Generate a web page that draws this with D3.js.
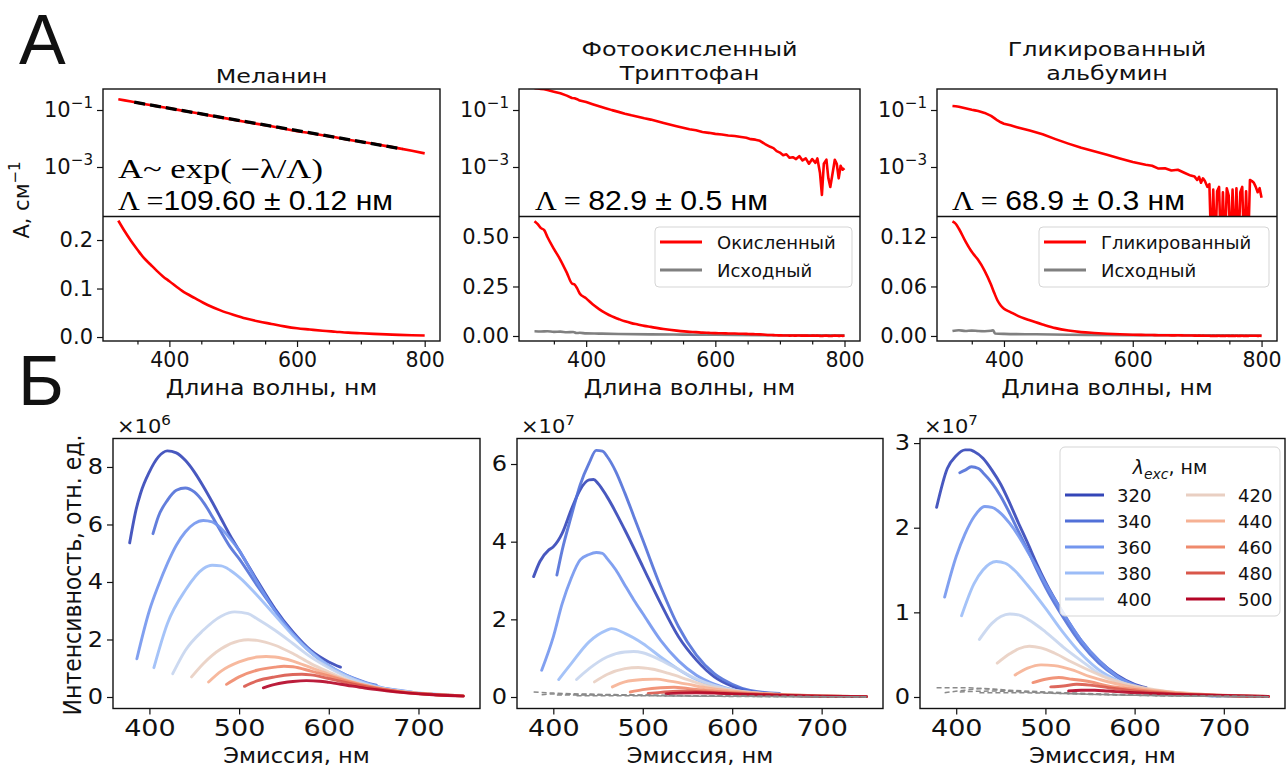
<!DOCTYPE html>
<html><head><meta charset="utf-8">
<script src="https://cdn.jsdelivr.net/npm/d3@7"></script>
<style>body{margin:0;background:#fff} svg{display:block}</style>
</head><body>
<svg width="1287" height="767"></svg>
<script>
// ---- absorption spectra (A, cm^-1 vs nm) ----
var melanin = [[320,0.240],[330,0.218],[340,0.198],[350,0.180],[360,0.163],[370,0.150],[380,0.137],[390,0.125],[400,0.115],[420,0.095],[440,0.080],[460,0.066],[480,0.055],[500,0.046],[520,0.038],[540,0.032],[560,0.027],[580,0.022],[600,0.018],[620,0.0155],[640,0.013],[660,0.011],[680,0.009],[700,0.0077],[720,0.0065],[740,0.0054],[760,0.0045],[780,0.0037],[800,0.0030]];
var melaninFit = [[345,0.188],[765,0.0043]];
var tryptoOx = [[320,0.58],[325,0.565],[330,0.545],[335,0.535],[340,0.50],[350,0.44],[360,0.385],[370,0.32],[378,0.265],[382,0.26],[386,0.24],[390,0.215],[400,0.19],[410,0.16],[420,0.136],[430,0.116],[440,0.099],[450,0.086],[460,0.074],[470,0.065],[480,0.058],[490,0.051],[500,0.046],[520,0.035],[540,0.027],[560,0.021],[570,0.0195],[580,0.017],[590,0.0158],[600,0.0145],[610,0.0138],[620,0.0128],[630,0.0122],[640,0.0113],[648,0.0106],[655,0.0095],[662,0.0091],[669,0.0083],[677,0.0064],[685,0.0051],[690,0.0046],[695,0.0036],[700,0.0032],[705,0.0026],[710,0.0028],[715,0.0021],[720,0.0022],[725,0.0019],[730,0.0024],[735,0.0017],[740,0.002],[745,0.0013],[750,0.0019],[755,0.0014],[758,0.002],[762,0.00063],[765,0.000105],[768,0.0013],[772,0.0018],[775,0.0004],[778,0.0002],[781,0.0005],[785,0.0018],[788,0.0013],[791,0.0004],[794,0.0011],[797,0.0008],[800,0.0009]];
var tryptoOrig = [[320,0.024],[330,0.023],[340,0.024],[350,0.021],[360,0.022],[370,0.019],[380,0.02],[385,0.015],[390,0.016],[400,0.013],[420,0.012],[450,0.01],[500,0.008],[550,0.007],[600,0.006],[700,0.004],[800,0.003]];
var albuminGly = [[320,0.139],[325,0.136],[330,0.13],[340,0.115],[350,0.102],[355,0.097],[360,0.092],[370,0.079],[380,0.062],[385,0.052],[390,0.043],[395,0.037],[400,0.033],[410,0.029],[420,0.025],[440,0.019],[460,0.014],[480,0.0095],[500,0.0066],[520,0.0047],[540,0.0036],[560,0.0027],[580,0.002],[600,0.0015],[620,0.0012],[630,0.0011],[640,0.00088],[650,0.0009],[660,0.00075],[670,0.0008],[680,0.00063],[690,0.0005],[696,0.00046],[700,0.00035],[703,0.00045],[706,0.00028],[709,0.0004],[712,0.00032],[716,0.0002],[719,0.00025],[722,1e-6],[725,0.00016],[728,1e-6],[731,0.00014],[734,0.0002],[737,1e-6],[740,0.00013],[743,1e-6],[746,0.00018],[749,0.0001],[752,1e-6],[755,0.00016],[758,1e-6],[761,0.00018],[764,1e-6],[767,0.00013],[770,0.0002],[773,1e-6],[776,0.00014],[779,1e-6],[782,0.00035],[785,0.00032],[788,0.00028],[791,0.0002],[794,0.00013],[797,0.00018],[800,0.000083]];
var albuminOrig = [[320,0.006],[330,0.007],[340,0.006],[350,0.0065],[360,0.006],[370,0.0058],[380,0.0063],[383,0.007],[386,0.003],[400,0.0025],[450,0.002],[500,0.0015],[600,0.001],[700,0.0008],[800,0.0006]];

// ---- emission spectra, one curve per excitation wavelength ----
var excitation = [320,340,360,380,400,420,440,460,480,500];
var excColors = ['#3446b8','#5170d8','#7396ee','#9bbcf7','#c6d5ee','#e9cfc2','#f6b194','#ef8a6c','#d9574a','#b40426'];

var melaninEm = [
  [[378,5.36],[385,6.5],[390,7.07],[400,7.83],[410,8.35],[420,8.56],[430,8.49],[440,8.23],[450,7.83],[460,7.33],[470,6.78],[480,6.2],[490,5.62],[500,5.1],[520,4.06],[540,3.07],[560,2.26],[580,1.62],[600,1.22],[613,1.04]],
  [[404,5.68],[410,6.28],[420,6.84],[430,7.19],[440,7.27],[450,7.13],[460,6.78],[470,6.28],[480,5.74],[490,5.22],[500,4.81],[520,3.88],[540,3.01],[560,2.2],[580,1.55],[600,1.08],[620,0.75],[640,0.52],[653,0.41]],
  [[386,1.33],[400,3.01],[410,3.88],[420,4.64],[430,5.28],[440,5.74],[450,6.03],[460,6.14],[470,6.09],[480,5.86],[490,5.51],[500,5.1],[520,4.0],[540,3.0],[560,2.2],[580,1.58],[600,1.1],[620,0.75],[640,0.49],[660,0.32],[680,0.23],[693,0.17]],
  [[405,1.02],[420,2.55],[440,3.71],[460,4.46],[470,4.58],[480,4.56],[490,4.41],[500,4.17],[520,3.54],[540,2.84],[560,2.14],[580,1.55],[600,1.08],[620,0.74],[640,0.49],[660,0.32],[680,0.21],[700,0.14],[720,0.1],[733,0.08]],
  [[426,0.81],[440,1.62],[460,2.32],[480,2.81],[495,2.96],[510,2.9],[520,2.72],[540,2.32],[560,1.86],[580,1.39],[600,1.02],[620,0.7],[640,0.46],[660,0.29],[680,0.2],[700,0.13],[720,0.09],[750,0.04]],
  [[447,0.7],[460,1.16],[480,1.68],[500,1.95],[510,1.99],[520,1.97],[540,1.8],[560,1.51],[580,1.16],[600,0.87],[620,0.6],[640,0.42],[660,0.29],[680,0.19],[700,0.13],[720,0.08],[750,0.04]],
  [[466,0.52],[480,0.9],[500,1.22],[520,1.39],[530,1.41],[540,1.39],[560,1.25],[580,1.02],[600,0.79],[620,0.58],[640,0.41],[660,0.28],[680,0.19],[700,0.12],[720,0.08],[750,0.04]],
  [[486,0.44],[500,0.7],[520,0.93],[540,1.04],[550,1.07],[560,1.05],[580,0.9],[600,0.73],[620,0.55],[640,0.4],[660,0.27],[680,0.18],[700,0.12],[720,0.08],[750,0.04]],
  [[506,0.37],[520,0.56],[540,0.7],[560,0.78],[570,0.79],[580,0.77],[600,0.64],[620,0.5],[640,0.37],[660,0.26],[680,0.18],[700,0.12],[720,0.08],[750,0.04]],
  [[527,0.32],[540,0.44],[560,0.54],[575,0.57],[590,0.55],[600,0.51],[620,0.41],[640,0.31],[660,0.23],[680,0.16],[700,0.11],[720,0.07],[750,0.03]]
];
var tryptoEm = [
  [[378,3.1],[385,3.49],[395,3.79],[400,3.87],[410,4.22],[420,4.82],[430,5.34],[440,5.59],[445,5.6],[450,5.5],[460,5.16],[480,4.3],[500,3.36],[520,2.41],[540,1.55],[560,0.95],[580,0.52],[600,0.28],[620,0.15],[640,0.09]],
  [[404,3.14],[410,3.79],[420,4.65],[430,5.46],[440,6.02],[448,6.35],[455,6.33],[460,6.2],[470,5.8],[480,5.25],[490,4.65],[500,4.05],[520,2.84],[540,1.81],[560,1.08],[580,0.6],[600,0.33],[620,0.17],[653,0.09]],
  [[387,0.69],[400,1.55],[410,2.41],[420,3.06],[430,3.53],[440,3.67],[448,3.72],[455,3.7],[460,3.57],[470,3.27],[480,2.88],[490,2.5],[500,2.15],[520,1.46],[540,0.93],[560,0.56],[580,0.33],[600,0.19],[620,0.11],[653,0.05]],
  [[406,0.45],[420,0.86],[440,1.42],[460,1.72],[465,1.76],[480,1.64],[500,1.38],[520,1.03],[540,0.71],[560,0.45],[580,0.28],[600,0.17],[640,0.07],[700,0.02],[733,0.01]],
  [[426,0.45],[440,0.73],[460,1.03],[480,1.16],[490,1.17],[500,1.14],[520,0.95],[540,0.71],[560,0.47],[580,0.3],[600,0.19],[640,0.08],[700,0.03],[750,0.01]],
  [[446,0.39],[460,0.58],[480,0.73],[495,0.76],[510,0.72],[530,0.6],[550,0.45],[570,0.3],[600,0.17],[650,0.07],[700,0.03],[750,0.01]],
  [[466,0.26],[480,0.39],[500,0.45],[515,0.46],[530,0.41],[550,0.33],[570,0.24],[600,0.15],[650,0.07],[700,0.03],[750,0.01]],
  [[486,0.13],[500,0.19],[520,0.24],[535,0.25],[550,0.22],[570,0.17],[600,0.12],[650,0.06],[700,0.03],[750,0.01]],
  [[506,0.09],[520,0.12],[540,0.15],[555,0.15],[570,0.13],[600,0.09],[650,0.05],[700,0.02],[750,0.01]],
  [[526,0.08],[540,0.1],[560,0.11],[580,0.1],[600,0.08],[650,0.045],[700,0.02],[750,0.01]]
];
var tryptoCtrl = [
  [[378,0.13],[400,0.1],[450,0.07],[500,0.05],[550,0.035],[600,0.025],[650,0.015],[700,0.01],[750,0.005]],
  [[387,0.06],[400,0.08],[420,0.07],[450,0.06],[500,0.045],[600,0.02],[700,0.008],[750,0.005]],
  [[404,0.05],[450,0.05],[500,0.04],[600,0.02],[750,0.004]],
  [[426,0.03],[500,0.03],[600,0.015],[750,0.003]]
];
var albuminEm = [
  [[378,2.24],[390,2.7],[400,2.85],[410,2.92],[415,2.92],[420,2.9],[430,2.82],[440,2.68],[450,2.51],[460,2.29],[470,2.05],[480,1.82],[490,1.58],[500,1.36],[520,0.99],[540,0.67],[560,0.43],[580,0.26],[600,0.15],[613,0.11]],
  [[404,2.65],[410,2.68],[417,2.72],[425,2.7],[430,2.65],[440,2.53],[450,2.37],[460,2.17],[470,1.95],[480,1.74],[490,1.51],[500,1.3],[520,0.94],[540,0.63],[560,0.4],[580,0.24],[600,0.13],[620,0.07],[640,0.04],[653,0.03]],
  [[387,1.18],[400,1.66],[410,1.93],[420,2.13],[432,2.25],[440,2.24],[450,2.17],[460,2.05],[470,1.9],[480,1.72],[490,1.54],[500,1.34],[520,0.99],[540,0.67],[560,0.43],[580,0.25],[600,0.14],[620,0.07],[660,0.03],[693,0.01]],
  [[406,0.96],[420,1.34],[430,1.5],[445,1.6],[455,1.58],[465,1.5],[480,1.32],[500,1.05],[520,0.76],[540,0.51],[560,0.32],[580,0.2],[600,0.12],[640,0.05],[700,0.01],[733,0.005]],
  [[426,0.68],[440,0.87],[450,0.95],[460,0.98],[470,0.97],[480,0.92],[500,0.77],[520,0.59],[540,0.43],[560,0.28],[580,0.19],[600,0.12],[640,0.05],[700,0.015],[750,0.005]],
  [[446,0.4],[460,0.51],[470,0.57],[482,0.6],[495,0.58],[510,0.52],[530,0.41],[550,0.31],[570,0.22],[600,0.13],[640,0.06],[700,0.02],[750,0.005]],
  [[466,0.26],[480,0.34],[495,0.38],[510,0.37],[530,0.32],[550,0.24],[570,0.18],[600,0.11],[650,0.05],[750,0.005]],
  [[486,0.17],[500,0.21],[515,0.23],[530,0.21],[550,0.18],[570,0.13],[600,0.09],[650,0.04],[750,0.005]],
  [[506,0.12],[520,0.13],[535,0.15],[550,0.14],[570,0.11],[600,0.07],[650,0.035],[750,0.005]],
  [[526,0.07],[540,0.08],[555,0.08],[570,0.07],[600,0.05],[650,0.03],[750,0.005]]
];
var albuminCtrl = [
  [[378,0.11],[400,0.11],[430,0.1],[450,0.08],[500,0.05],[550,0.03],[600,0.02],[700,0.006],[750,0.003]],
  [[387,0.05],[410,0.08],[430,0.1],[460,0.08],[500,0.06],[600,0.025],[750,0.004]],
  [[404,0.06],[440,0.07],[480,0.06],[550,0.035],[650,0.012],[750,0.003]],
  [[426,0.05],[470,0.05],[520,0.04],[600,0.02],[750,0.003]]
];

// ---- tick values / labels ----
var absMajor = [400,600,800], absMinor = [350,450,500,550,650,700,750];
var logTicks = [1e-1,1e-3], logExp = ['−1','−3'];
var emTicks = [400,500,600,700];

var FONT = '"DejaVu Sans", sans-serif';
var svg = d3.select('svg');
var clipId = 0;

function clip(x0,y0,x1,y1){
  var id = 'c' + (clipId++);
  svg.append('clipPath').attr('id',id).append('rect')
    .attr('x',x0).attr('y',y0).attr('width',x1-x0).attr('height',y1-y0);
  return 'url(#'+id+')';
}

function text(x,y,s,size,anchor,sx){
  return svg.append('text')
    .attr('transform','translate('+x+','+y+') scale('+(sx||1)+',1)')
    .attr('text-anchor',anchor||'middle')
    .attr('font-family',FONT).attr('font-size',size).attr('fill','#111')
    .text(s);
}

// "10" with a raised exponent, like matplotlib mathtext
function powText(t,base,exp,size){
  t.text(null);
  t.append('tspan').text(base);
  t.append('tspan').attr('dy',-size*0.42).attr('font-size',size*0.72).text(exp);
}

function styleAxis(g,size,sx,left){
  g.select('.domain').remove();
  g.selectAll('.tick line').attr('stroke','#111').attr('stroke-width',1.2);
  g.selectAll('.tick text').attr('font-family',FONT).attr('font-size',size).attr('fill','#111');
  if(sx && sx!==1){
    g.selectAll('.tick text').attr('transform','scale('+sx+',1)');
    if(left) g.selectAll('.tick text').attr('x', function(){ return +d3.select(this).attr('x')/sx; });
  }
}

// ================= A: absorption =================
var topY0 = 89, topMid = 216.5, topY1 = 341;
var absDomain = [296,824];

var topPanels = [
  {l:103, r:440, title:['Меланин'], lin:[-0.0082,0.2485], linTicks:[0,0.1,0.2], fmt:'.1f', main:melanin, orig:null, legend:null},
  {l:519, r:860, title:['Фотоокисленный','Триптофан'], lin:[-0.0253,0.6035], linTicks:[0,0.25,0.5], fmt:'.2f', main:tryptoOx, orig:tryptoOrig, legend:['Окисленный','Исходный']},
  {l:937, r:1277, title:['Гликированный','альбумин'], lin:[-0.0061,0.1448], linTicks:[0,0.06,0.12], fmt:'.2f', main:albuminGly, orig:albuminOrig, legend:['Гликированный','Исходный']}
];

topPanels.forEach(function(p,i){
  var x = d3.scaleLinear().domain(absDomain).range([p.l,p.r]);
  var yl = d3.scaleLog().domain([1.83e-5,0.546]).range([topMid,topY0]);
  var yn = d3.scaleLinear().domain(p.lin).range([topY1,topMid]);
  var lineLog = d3.line().x(function(d){return x(d[0]);}).y(function(d){return yl(d[1]);});
  var lineLin = d3.line().x(function(d){return x(d[0]);}).y(function(d){return yn(d[1]);}).curve(d3.curveMonotoneX);

  var gLog = svg.append('g').attr('clip-path',clip(p.l,topY0,p.r,topMid));
  gLog.append('path').datum(p.main).attr('d',lineLog).attr('fill','none').attr('stroke','#ff0000')
    .attr('stroke-width',2.6).attr('stroke-linejoin','round');
  if(i===0){
    gLog.append('path').datum(melaninFit).attr('d',lineLog)
      .attr('fill','none').attr('stroke','#000').attr('stroke-width',3.4).attr('stroke-dasharray','11,5');
  }
  var gLin = svg.append('g').attr('clip-path',clip(p.l,topMid,p.r,topY1));
  if(p.orig) gLin.append('path').datum(p.orig).attr('d',lineLin).attr('fill','none').attr('stroke','#808080').attr('stroke-width',2.6);
  gLin.append('path').datum(p.main).attr('d',lineLin).attr('fill','none').attr('stroke','#ff0000').attr('stroke-width',2.6);

  // frames
  svg.append('rect').attr('x',p.l).attr('y',topY0).attr('width',p.r-p.l).attr('height',topY1-topY0)
    .attr('fill','none').attr('stroke','#111').attr('stroke-width',1.4);
  svg.append('line').attr('x1',p.l).attr('x2',p.r).attr('y1',topMid).attr('y2',topMid).attr('stroke','#111').attr('stroke-width',1.4);

  // axes
  var ax = svg.append('g').attr('transform','translate(0,'+topY1+')')
    .call(d3.axisBottom(x).tickValues(absMajor).tickFormat(d3.format('d')).tickSize(6).tickPadding(5));
  styleAxis(ax,20.5);
  var axm = svg.append('g').attr('transform','translate(0,'+topY1+')')
    .call(d3.axisBottom(x).tickValues(absMinor).tickFormat('').tickSize(3.5));
  styleAxis(axm,20);
  var ayl = svg.append('g').attr('transform','translate('+p.l+',0)')
    .call(d3.axisLeft(yl).tickValues(logTicks).tickFormat(function(){return '10';}).tickSize(6).tickPadding(4));
  styleAxis(ayl,21);
  ayl.selectAll('.tick text').each(function(d,k){ powText(d3.select(this),'10',logExp[k],21); });
  var ayn = svg.append('g').attr('transform','translate('+p.l+',0)')
    .call(d3.axisLeft(yn).tickValues(p.linTicks).tickFormat(d3.format(p.fmt)).tickSize(6).tickPadding(4));
  styleAxis(ayn,21);

  var cx = (p.l+p.r)/2;
  if(p.title.length===1){ text(cx,83,p.title[0],20,'middle',1.19); }
  else { text(cx,56,p.title[0],20,'middle',1.19); text(cx,80,p.title[1],20,'middle',1.19); }
  text(cx,395,'Длина волны, нм',22,'middle',1.07);

  if(p.legend){
    var lw = (i===1?197:230);
    var lx = p.r - 8 - lw, ly = 227;
    svg.append('rect').attr('x',lx).attr('y',ly).attr('width',lw).attr('height',60).attr('rx',4)
      .attr('fill','#fff').attr('fill-opacity',0.85).attr('stroke','#d5d5d5').attr('stroke-width',1);
    [['#ff0000',p.legend[0]],['#808080',p.legend[1]]].forEach(function(e,k){
      var yy = ly + 15 + k*28;
      svg.append('line').attr('x1',lx+5).attr('x2',lx+47).attr('y1',yy).attr('y2',yy).attr('stroke',e[0]).attr('stroke-width',3);
      text(lx+62,yy+7,e[1],18,'start');
    });
  }
});

// annotations (fit results)
function note(x,y,parts,len){
  var t = svg.append('text').attr('x',x).attr('y',y).attr('font-size',27).attr('fill','#000');
  parts.forEach(function(pt){ t.append('tspan').attr('font-family',pt[1]==='s'?'"Liberation Serif", serif':'"Liberation Sans", sans-serif').text(pt[0]); });
  if(len) t.attr('textLength',len).attr('lengthAdjust','spacingAndGlyphs');
}
note(118,178,[['A~ exp( −λ/Λ)','s']],205);
note(118,210,[['Λ =','s'],['109.60 ± 0.12 нм','n']],275);
note(535,210,[['Λ = ','s'],['82.9 ± 0.5 нм','n']],233);
note(952,210,[['Λ = ','s'],['68.9 ± 0.3 нм','n']],233);

var yLab = svg.append('text').attr('transform','translate(29,200) rotate(-90)').attr('text-anchor','middle')
  .attr('font-family',FONT).attr('font-size',21).attr('fill','#111');
yLab.append('tspan').text('А, см');
yLab.append('tspan').attr('dy',-9).attr('font-size',15).text('−1');

// ================= Б: emission =================
var botY0 = 438.5, botY1 = 708.5;
var emDomain = [359.4,768.6];
var botPanels = [
  {l:113, r:480, y:[-0.4,8.99], ticks:[0,2,4,6,8], mult:'6', em:melaninEm, ctrl:null},
  {l:517, r:883, y:[-0.296,6.657], ticks:[0,2,4,6], mult:'7', em:tryptoEm, ctrl:tryptoCtrl},
  {l:920, r:1285, y:[-0.136,3.054], ticks:[0,1,2,3], mult:'7', em:albuminEm, ctrl:albuminCtrl}
];
var SX = 1.2;

botPanels.forEach(function(p,i){
  var x = d3.scaleLinear().domain(emDomain).range([p.l,p.r]);
  var y = d3.scaleLinear().domain(p.y).range([botY1,botY0]);
  var line = d3.line().x(function(d){return x(d[0]);}).y(function(d){return y(d[1]);}).curve(d3.curveMonotoneX);
  var g = svg.append('g').attr('clip-path',clip(p.l,botY0,p.r,botY1));
  p.em.forEach(function(c,k){
    g.append('path').datum(c).attr('d',line).attr('fill','none')
      .attr('stroke',excColors[k]).attr('stroke-width',2.9).attr('stroke-opacity',0.9).attr('stroke-linecap','round');
  });
  if(p.ctrl) p.ctrl.forEach(function(c){
    g.append('path').datum(c).attr('d',line).attr('fill','none')
      .attr('stroke','#8a8a8a').attr('stroke-width',1.5).attr('stroke-dasharray','5,3');
  });
  svg.append('rect').attr('x',p.l).attr('y',botY0).attr('width',p.r-p.l).attr('height',botY1-botY0)
    .attr('fill','none').attr('stroke','#111').attr('stroke-width',1.4);
  var ax = svg.append('g').attr('transform','translate(0,'+botY1+')')
    .call(d3.axisBottom(x).tickValues(emTicks).tickFormat(d3.format('d')).tickSize(6).tickPadding(6));
  styleAxis(ax,22.5,SX);
  var ay = svg.append('g').attr('transform','translate('+p.l+',0)')
    .call(d3.axisLeft(y).tickValues(p.ticks).tickFormat(d3.format('d')).tickSize(6).tickPadding(4));
  styleAxis(ay,21.5,1.12,true);
  var m = text(p.l+4,433,'',20,'start',1.05);
  powText(m,'×10',p.mult,20);
  text((p.l+p.r)/2,763,'Эмиссия, нм',20.5,'middle',1.1);
});

svg.append('text').attr('transform','translate(81,575) rotate(-90) scale(1,1.1)').attr('text-anchor','middle')
  .attr('font-family',FONT).attr('font-size',22).attr('fill','#111').text('Интенсивность, отн. ед.');

// legend for excitation wavelengths
(function(){
  var lx = 1060, ly = 447;
  svg.append('rect').attr('x',lx).attr('y',ly).attr('width',220).attr('height',169).attr('rx',5)
    .attr('fill','#fff').attr('fill-opacity',0.85).attr('stroke','#d5d5d5').attr('stroke-width',1);
  var t = svg.append('text').attr('x',lx+110).attr('y',ly+27).attr('text-anchor','middle')
    .attr('font-family',FONT).attr('font-size',19).attr('fill','#111');
  t.append('tspan').attr('font-style','italic').text('λ');
  t.append('tspan').attr('font-style','italic').attr('font-size',14).attr('dy',5).text('exc');
  t.append('tspan').attr('dy',-5).text(', нм');
  excitation.forEach(function(e,k){
    var col = Math.floor(k/5), row = k%5;
    var yy = ly + 48 + row*26;
    var x0 = col===0 ? 1065 : 1186;
    svg.append('line').attr('x1',x0).attr('x2',x0+39).attr('y1',yy).attr('y2',yy)
      .attr('stroke',excColors[k]).attr('stroke-width',3);
    text(x0+52,yy+7,String(e),18,'start');
  });
})();

// panel letters
text(19,64,'А',70,'start').attr('font-family','"Liberation Sans", sans-serif');
text(18,405,'Б',70,'start').attr('font-family','"Liberation Sans", sans-serif');
</script>
</body></html>
